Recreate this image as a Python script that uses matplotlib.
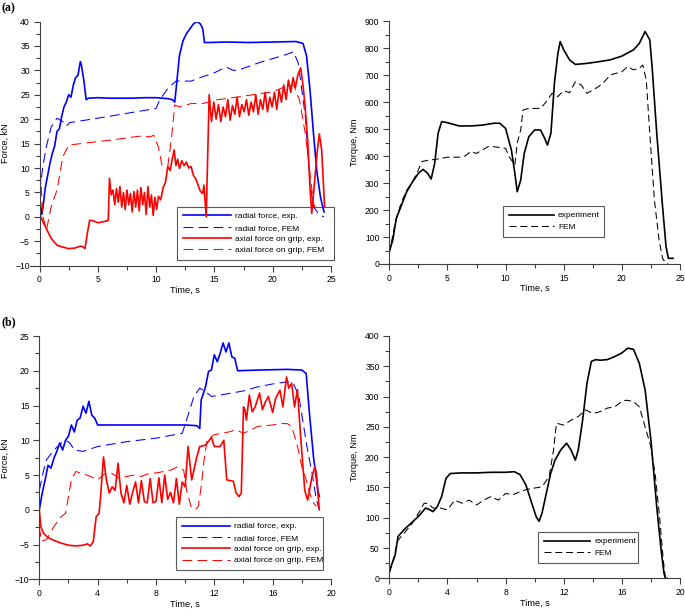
import numpy as np
import matplotlib
matplotlib.use('Agg')
import matplotlib.pyplot as plt

plt.rcParams['font.family'] = ['Liberation Sans', 'DejaVu Sans']
plt.rcParams['lines.scale_dashes'] = False

# ---------------- (a) forces ----------------
a_rad_exp_t = [0, 0.2, 0.35, 0.5, 0.7, 0.9, 1.1, 1.3, 1.5, 1.7, 1.9, 2.1, 2.3, 2.5, 2.7, 2.9, 3.1, 3.3, 3.5, 3.6, 3.8, 4.0, 4.2,
               5, 6, 7, 8, 9, 10, 11, 11.4, 11.6, 11.75, 12.0, 12.3, 12.6, 12.9, 13.2, 13.5, 13.8, 14.0, 14.15,
               14.5, 16, 18, 20, 22, 22.6, 22.9, 23.2, 23.5, 23.8, 24.1, 24.4]
a_rad_exp = [4, 0.5, 3, 6, 8.5, 11, 13, 14.5, 17.5, 18, 20.5, 22.5, 23.5, 25, 24.5, 27, 28.5, 29, 31.8, 31, 28, 24, 24.3,
             24.4, 24.3, 24.3, 24.3, 24.4, 24.4, 24.2, 24.0, 23.5, 27, 33, 36, 37.5, 38.5, 39.5, 40, 39.5, 38.5, 35.7,
             35.7, 35.8, 35.7, 35.8, 35.9, 35.5, 33, 26, 17, 9, 4, 1]

a_rad_fem_t = [0, 0.3, 0.6, 1.0, 1.5, 2.0, 2.3, 2.6, 5, 7.5, 10, 10.3, 11, 11.7, 13, 14, 15, 16, 16.6, 17,
               19, 20, 21, 21.8, 22.2, 22.8, 23.2, 23.5, 24, 24.4]
a_rad_fem = [5, 10.5, 14.5, 18.4, 20.2, 19.5, 18.6, 19.3, 20.2, 21.2, 22.2, 23.9, 26.3, 27.8, 27.8, 28.7, 29.5, 30.7, 30, 30,
             31.7, 32.4, 33.1, 33.8, 31.4, 20.5, 6.8, 2.1, 0.4, 0]

a_ax_exp_t = [0, 0.1, 0.5, 1, 1.5, 2, 2.5, 3, 3.5, 3.7, 3.9, 4.1, 4.3, 4.6, 5, 5.5, 5.9,
              6.0, 6.15, 6.3, 6.45, 6.6, 6.75, 6.9, 7.05, 7.2, 7.35, 7.5, 7.65, 7.8, 7.95, 8.1, 8.25, 8.4, 8.55,
              8.7, 8.85, 9.0, 9.15, 9.3, 9.45, 9.6, 9.75, 9.9, 10.05, 10.2, 10.4,
              10.6, 10.8, 11.0, 11.2, 11.4, 11.55, 11.7, 11.85, 12.0, 12.2, 12.4, 12.6, 12.8, 13.0, 13.2, 13.4,
              13.6, 13.8, 14.0, 14.1, 14.3, 14.55,
              14.75, 14.95, 15.15, 15.35, 15.55, 15.75, 15.95, 16.15, 16.35, 16.55, 16.75, 16.95, 17.15, 17.35,
              17.55, 17.75, 17.95, 18.15, 18.35, 18.55, 18.75, 18.95, 19.15, 19.35, 19.55, 19.75, 19.95, 20.15,
              20.35, 20.55, 20.75, 20.95, 21.15, 21.35, 21.55, 21.75, 21.95, 22.15, 22.4,
              22.6, 22.8, 23.0, 23.2, 23.35, 23.55, 23.8, 24.0, 24.2, 24.45]
a_ax_exp = [2, 0, -2, -4.4, -5.8, -6.2, -6.5, -6.4, -6.0, -6.1, -6.5, -3.4, -0.7, -0.8, -1.2, -1.0, -0.7,
            7.9, 4.5, 5.5, 2.5, 5.8, 3.0, 6.2, 2.0, 5.0, 1.5, 5.5, 2.5, 4.8, 1.0, 5.2, 2.0, 5.5, 1.2,
            6.0, 2.5, 5.0, 0.5, 6.2, 2.0, 4.5, 0.3, 4.0, 1.5, 4.2, 3.5,
            6.0, 7.0, 10.3, 9.5, 12.0, 13.7, 10.5, 11.8, 9.9, 11.5, 10.5, 11.2, 10.0, 10.3, 8.5, 7.8,
            6.5, 5.2, 4.8, 6.5, 0.0, 25.0,
            19.5, 23.5, 20.0, 23.0, 19.5, 22.5, 20.5, 24.0, 19.8, 22.8, 21.0, 24.5, 20.5, 23.0,
            21.5, 24.0, 20.8, 23.5, 21.5, 25.0, 21.0, 24.0, 22.0, 25.5, 21.5, 24.5, 22.5, 25.5,
            22.0, 26.0, 23.5, 27.0, 24.0, 28.0, 25.5, 28.5, 26.5, 29.0, 30.5,
            27, 22, 15.7, 6, 0.7, 6, 13, 17, 13.7, 2]

a_ax_fem_t = [0, 0.15, 0.3, 0.6, 1.0, 1.5, 2.0, 2.5, 5, 7, 8.5, 9.5, 9.8, 10.2, 10.5, 11.0,
              11.3, 11.6, 12, 13, 14, 15, 16, 18, 20, 21, 21.8, 22.3, 22.8, 23.2, 23.5, 23.8]
a_ax_fem = [12.3, 6, 0, -2.7, 2.1, 5.5, 12.3, 14.7, 15.4, 16.0, 16.5, 16.4, 16.7, 14.3, 10.6, 10.3,
            15.7, 22.9, 22.5, 23.2, 23.2, 23.9, 24.2, 24.9, 25.6, 26.6, 27.0, 23.9, 17.0, 8.9, 2.8, 0.7]

# ---------------- (a) torque ----------------
a_tq_exp_t = [0, 0.3, 0.6, 1, 1.5, 2, 2.5, 2.9, 3.3, 3.6, 3.9, 4.2, 4.5, 5, 6, 7, 8, 9, 9.5, 10, 10.5, 10.8, 11,
              11.3, 11.6, 12, 12.5, 13, 13.3, 13.6, 13.9, 14.2, 14.5, 14.7, 15, 15.5, 16, 17, 18, 19, 20, 21, 21.5,
              22, 22.4, 22.6, 23, 23.5, 23.8, 24, 24.4]
a_tq_exp = [46, 89, 169, 213, 268, 305, 336, 351, 336, 315, 373, 485, 528, 524, 512, 512, 515, 522, 522, 503, 423, 336, 268,
            311, 410, 472, 497, 497, 472, 441, 485, 670, 781, 825, 794, 757, 740, 744, 750, 757, 771, 794, 818,
            862, 831, 732, 485, 213, 64, 21, 21]

a_tq_fem_t = [0, 0.5, 1, 1.5, 2, 2.5, 2.8, 3.5, 4, 5, 6, 6.5, 7, 7.5, 8, 8.5, 9, 10, 10.3, 10.8,
              11, 11.3, 11.5, 12, 13, 13.5, 14, 14.5, 15, 15.5, 16, 16.5, 17, 17.5, 18, 18.5, 19, 20, 20.5, 21,
              21.5, 21.8, 22.1, 22.4, 22.8, 23.2, 23.5, 23.8, 24]
a_tq_fem = [40, 151, 225, 274, 305, 349, 380, 386, 388, 396, 396, 400, 417, 410, 423, 435, 435, 429, 398, 367,
            448, 497, 571, 577, 577, 602, 633, 621, 643, 635, 676, 664, 633, 645, 658, 676, 701, 713, 732, 720,
            726, 738, 682, 485, 237, 89, 21, 2, 0]

# ---------------- (b) forces ----------------
b_rad_exp_t = [0, 0.2, 0.4, 0.6, 0.8, 1.0, 1.2, 1.4, 1.6, 1.8, 2.0, 2.2, 2.4, 2.6, 2.8, 3.0, 3.2, 3.4, 3.6, 3.8, 4.0,
               6, 8, 10, 10.8, 11.0, 11.1, 11.4, 11.6, 11.8, 12.0, 12.2, 12.4, 12.6, 12.8, 13.0, 13.2, 13.4, 13.6,
               15, 17, 18.0, 18.3, 18.5, 18.8, 19.1, 19.2]
b_rad_exp = [0, 2.4, 4.3, 6.4, 6.0, 7.4, 8.4, 9.6, 8.6, 10.0, 10.6, 12.2, 11.2, 12.9, 13.2, 14.9, 13.9, 15.6, 13.6, 13.2, 12.2,
             12.2, 12.2, 12.2, 12.1, 11.7, 15.8, 17.7, 19.9, 20.1, 22.3, 21.3, 22.5, 24.0, 22.7, 24.0, 22.0, 21.8, 20.0,
             20.1, 20.2, 20.1, 19.6, 14.4, 7.6, 2.8, 1.9]

b_rad_fem_t = [0, 0.3, 0.5, 1.0, 1.5, 1.8, 2.1, 2.4, 3.0, 4.0, 6.0, 8.0, 9.8, 10.2, 10.6, 11.0, 11.4, 11.8, 12.4, 14.0,
               15.0, 16.0, 17.0, 17.4, 17.8, 18.1, 18.35, 18.7, 19.0, 19.2]
b_rad_fem = [2.8, 5.7, 7.2, 8.6, 9.6, 10.0, 9.6, 8.6, 8.4, 9.1, 9.8, 10.3, 11.0, 13.6, 16.3, 17.5, 17.0, 16.3, 16.5, 17.1,
             17.7, 18.1, 18.4, 18.3, 16.3, 12.4, 9.1, 5.3, 1.4, 0]

b_ax_exp_t = [0, 0.1, 0.3, 0.6, 1.0, 1.5, 2.0, 2.5, 3.0, 3.3, 3.5, 3.7, 3.9, 4.1, 4.2, 4.4, 4.6, 4.8, 5.0, 5.2,
              5.4, 5.6, 5.8, 6.0, 6.2, 6.4, 6.6, 6.8, 7.0, 7.2, 7.4, 7.6, 7.8, 8.0, 8.2, 8.4, 8.6, 8.8, 9.0, 9.2,
              9.4, 9.6, 9.8, 10.0, 10.2, 10.45, 10.8, 11.0, 11.4, 11.8, 12.0, 12.4, 12.65, 12.85, 13.3, 13.5, 13.7,
              13.85, 14.0, 14.1, 14.2, 14.4, 14.6, 14.8, 15.1, 15.3, 15.5, 15.7, 16.0, 16.2, 16.5, 16.7, 16.95, 17.1,
              17.3, 17.5, 17.7, 17.9, 18.2, 18.4, 18.7, 18.9, 19.0, 19.1, 19.2]
b_ax_exp = [0, -2.4, -3.4, -4.0, -4.4, -4.8, -5.1, -5.2, -5.1, -4.9, -5.2, -4.6, -1.0, -0.5, 1.9, 7.6, 4.3, 2.4, 3.3, 2.8,
            6.7, 2.4, 1.0, 3.5, 0.8, 2.5, 4.0, 1.0, 4.2, 1.2, 1.0, 4.5, 1.0, 1.2, 4.6, 1.0, 5.0, 1.5, 2.5, 1.0,
            4.5, 0.8, 4.0, 3.3, 9.1, 4.3, 7.6, 9.1, 9.3, 10.4, 9.1, 9.1, 10.0, 4.3, 4.1, 2.4, 1.9,
            2.4, 14.8, 14.4, 12.9, 16.5, 14.1, 14.8, 16.8, 14.4, 15.5, 16.3, 14.0, 16.0, 17.2, 14.8, 19.1, 17.5,
            18.2, 14.8, 17.3, 11.0, 2.8, 1.4, 4.8, 6.2, 5.2, 2.4, 0]

b_ax_fem_t = [0, 0.15, 0.5, 1.0, 1.5, 1.8, 2.0, 2.2, 2.5, 3.0, 3.5, 4.0, 4.5, 5.0, 5.5, 6.0, 6.5, 7.0, 7.5, 8.0,
              8.5, 9.0, 9.5, 9.9, 10.1, 10.4, 10.7, 10.9, 11.1, 11.3, 11.5, 11.8, 12.0, 13.0, 13.5, 14.0, 15.0, 16.0,
              16.5, 17.0, 17.3, 17.65, 18.0, 18.3, 18.6, 18.8, 19.0]
b_ax_fem = [-2.5, -4.5, -4.3, -2.4, -1.0, -0.5, 1.9, 4.3, 5.5, 5.2, 4.8, 4.3, 5.2, 5.2, 4.5, 4.8, 5.0, 4.8, 5.2, 5.3,
            5.5, 5.7, 6.2, 5.7, 2.8, 0.5, 0.0, 0.5, 3.3, 7.2, 10.0, 10.5, 10.8, 11.2, 11.5, 11.0, 12.0, 12.2,
            12.4, 12.4, 12.0, 9.6, 6.2, 4.3, 2.0, 1.0, 0.5]

# ---------------- (b) torque ----------------
b_tq_exp_t = [0, 0.2, 0.4, 0.6, 1, 1.5, 2, 2.5, 2.8, 3, 3.3, 3.6, 3.9, 4.2, 5, 6, 7, 8, 8.6, 9,
              9.4, 9.8, 10.1, 10.3, 10.5, 10.8, 11.1, 11.4, 11.8, 12.2, 12.5, 12.8, 13, 13.3, 13.6, 13.9, 14.2, 14.5,
              15, 15.5, 16, 16.4, 16.8, 17.2, 17.6, 18, 18.4, 18.7, 18.9, 19, 19.1]
b_tq_exp = [11, 25, 38, 69, 80, 91, 102, 116, 113, 110, 118, 135, 165, 173, 174, 174, 175, 175, 176, 171,
            154, 124, 102, 94, 107, 140, 173, 195, 212, 223, 212, 195, 212, 261, 322, 358, 361, 360,
            361, 366, 372, 380, 378, 355, 311, 228, 118, 47, 8, 0, 0]

b_tq_fem_t = [0, 0.3, 0.6, 1, 1.5, 2, 2.4, 2.7, 3, 3.5, 4, 4.5, 5, 5.5, 6, 6.5, 7, 7.5, 8, 8.5,
              9, 9.5, 10, 10.5, 11, 11.3, 11.5, 12, 12.5, 13, 13.5, 14, 14.5, 15, 15.5, 16, 16.3, 16.8,
              17.2, 17.6, 18.0, 18.3, 18.6, 18.85, 19.0]
b_tq_fem = [8, 33, 63, 74, 88, 107, 124, 123, 116, 116, 113, 129, 124, 129, 121, 129, 135, 129, 140, 138,
            143, 147, 149, 151, 168, 212, 256, 253, 261, 267, 278, 272, 275, 281, 283, 292, 294, 292,
            283, 250, 217, 170, 100, 30, 0]

force_labels = ['radial force, exp.', 'radial force, FEM', 'axial force on grip, exp.', 'axial force on grip, FEM']
torque_labels = ['experiment', 'FEM']

W, H = 685, 615
fig = plt.figure(figsize=(W / 100, H / 100), dpi=100)


def px_axes(x0, x1, ytop, ybot):
    # axes rectangle given in pixel coords of the picture
    return fig.add_axes([x0 / W, 1 - ybot / H, (x1 - x0) / W, (ybot - ytop) / H])


def style(ax, xmax, xstep, ymin, ymax, ystep, ylabel):
    ax.set_xlim(0, xmax)
    ax.set_ylim(ymin, ymax)
    ax.spines['top'].set_visible(False)
    ax.spines['right'].set_visible(False)
    ax.spines['bottom'].set_bounds(-xmax * 0.034, xmax)
    for s in ['left', 'bottom']:
        ax.spines[s].set_linewidth(0.8)
        ax.spines[s].set_color('0.25')
    ax.set_xticks(np.arange(0, xmax + 0.01, xstep))
    ax.set_xticks(np.arange(xstep / 2, xmax, xstep), minor=True)
    ax.set_yticks(np.arange(ymin, ymax + 0.01, ystep))
    ax.set_yticks(np.arange(ymin + ystep / 2, ymax, ystep), minor=True)
    ax.tick_params(which='major', direction='out', length=4.5, width=0.8, color='0.25',
                   labelsize=6.2, pad=2.5)
    ax.tick_params(which='minor', direction='out', length=3, width=0.8, color='0.25')
    ax.set_xlabel('Time, s', fontsize=6.6, labelpad=1)
    ax.set_ylabel(ylabel, fontsize=6.6, labelpad=4)
    ax.patch.set_visible(False)


def legend(ax, x, y, w, hl):
    # (x, y) is the top-left corner of the box in axes fraction
    lg = ax.legend(loc='upper left', bbox_to_anchor=(x, y, w, 0), mode='expand', borderaxespad=0,
                   fontsize=6.0, frameon=True, fancybox=False, edgecolor='0.35', framealpha=1,
                   handlelength=hl, handletextpad=0.5, labelspacing=0.42, borderpad=0.7)
    lg.get_frame().set_linewidth(0.8)
    lg.set_zorder(1)  # curves run over the box in the original


blue, red = '#0000ff', '#ff0000'
dash = (0, (7, 3.8))

# (a) forces
ax = px_axes(39.5, 331, 21.5, 265.7)
ax.plot(a_rad_exp_t, a_rad_exp, color=blue, lw=1.2, label=force_labels[0])
ax.plot(a_rad_fem_t, a_rad_fem, color=blue, lw=0.75, ls=dash, label=force_labels[1])
ax.plot(a_ax_exp_t, a_ax_exp, color=red, lw=1.2, label=force_labels[2])
ax.plot(a_ax_fem_t, a_ax_fem, color=red, lw=0.75, ls=dash, label=force_labels[3])
style(ax, 25, 5, -10, 40, 5, 'Force, kN')
legend(ax, 0.4707, 0.2416, 0.54, 5.8)

# (a) torque
ax = px_axes(389.3, 680, 21.3, 264)
ax.plot(a_tq_exp_t, a_tq_exp, color='k', lw=1.2, label=torque_labels[0])
ax.plot(a_tq_fem_t, a_tq_fem, color='k', lw=0.75, ls=(0, (5, 2.8)), label=torque_labels[1])
style(ax, 25, 5, 0, 900, 100, 'Torque, Nm')
legend(ax, 0.391, 0.240, 0.347, 5.4)

# (b) forces
ax = px_axes(39.3, 331, 336, 579.3)
ax.plot(b_rad_exp_t, b_rad_exp, color=blue, lw=1.2, label=force_labels[0])
ax.plot(b_rad_fem_t, b_rad_fem, color=blue, lw=0.75, ls=dash, label=force_labels[1])
ax.plot(b_ax_exp_t, b_ax_exp, color=red, lw=1.2, label=force_labels[2])
ax.plot(b_ax_fem_t, b_ax_fem, color=red, lw=0.75, ls=dash, label=force_labels[3])
style(ax, 20, 4, -10, 25, 5, 'Force, kN')
legend(ax, 0.4686, 0.257, 0.503, 5.8)

# (b) torque
ax = px_axes(389.3, 680, 336, 578.3)
ax.plot(b_tq_exp_t, b_tq_exp, color='k', lw=1.2, label=torque_labels[0])
ax.plot(b_tq_fem_t, b_tq_fem, color='k', lw=0.75, ls=(0, (5, 2.8)), label=torque_labels[1])
style(ax, 20, 4, 0, 400, 50, 'Torque, Nm')
legend(ax, 0.5105, 0.192, 0.346, 5.6)

for lab, yy in [('(a)', 8), ('(b)', 322)]:
    fig.text(2 / W, 1 - yy / H, lab, family='Liberation Serif', fontweight='bold', fontsize=8.5,
             ha='left', va='center')

fig.savefig('out.png', dpi=100)
